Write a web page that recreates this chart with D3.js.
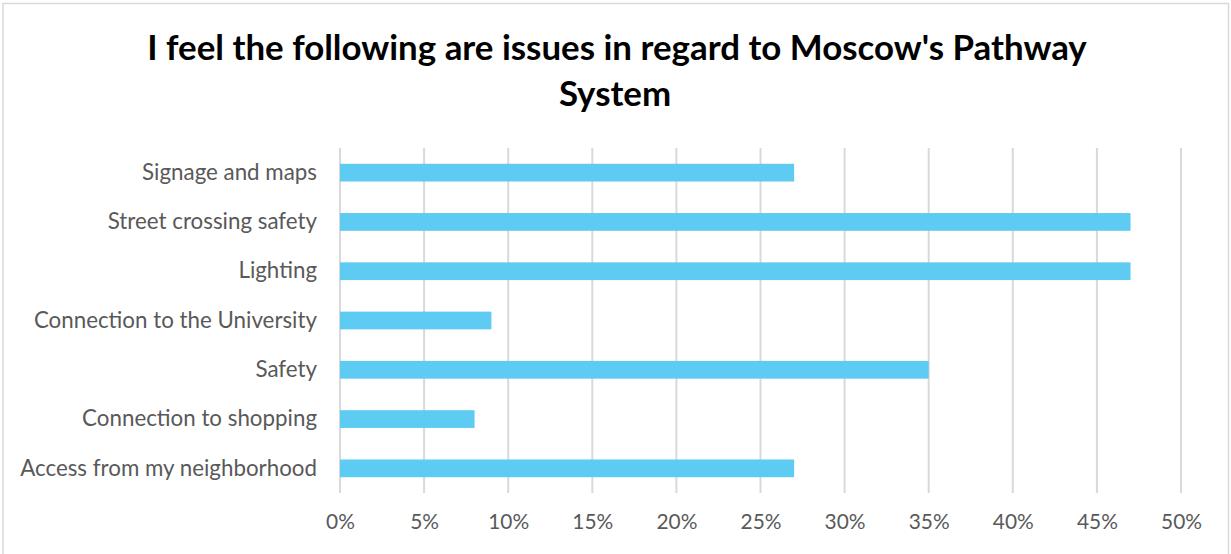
<!DOCTYPE html>
<html>
<head>
<meta charset="utf-8">
<script src="https://cdn.jsdelivr.net/npm/d3@7"></script>
<style>
  html, body { margin: 0; padding: 0; background: #fff; }
  svg { display: block; }
</style>
</head>
<body>
<svg id="chart" width="1231" height="554"></svg>
<script>
// Survey responses: share of respondents naming each issue
const categories = [
  "Signage and maps",
  "Street crossing safety",
  "Lighting",
  "Connection to the University",
  "Safety",
  "Connection to shopping",
  "Access from my neighborhood"
];
const values = [0.27, 0.47, 0.47, 0.09, 0.35, 0.08, 0.27];
const tickValues = [0, 0.05, 0.10, 0.15, 0.20, 0.25, 0.30, 0.35, 0.40, 0.45, 0.50];
const titleLines = ["I feel the following are issues in regard to Moscow's Pathway", "System"];

const W = 1231, H = 554;
const margin = { left: 340, right: 50, top: 148, bottom: 61 };
const font = "Lato, 'Open Sans', sans-serif";

const svg = d3.select("#chart");

// outer chart border (its bottom edge runs past the canvas)
svg.append("rect")
  .attr("x", 3).attr("y", 3.5)
  .attr("width", W - 5.5).attr("height", H + 10)
  .attr("fill", "#fff")
  .attr("stroke", "#d9d9d9")
  .attr("stroke-width", 1.5);

const x = d3.scaleLinear().domain([0, 0.5]).range([margin.left, W - margin.right]);
const y = d3.scaleBand().domain(categories)
  .range([margin.top, H - margin.bottom])
  .paddingInner(0.64).paddingOuter(0.32);

// shrink/grow a text node so it spans the wanted width
function fitWidth(sel, target, base) {
  sel.attr("font-size", base);
  const w = sel.node().getComputedTextLength();
  sel.attr("font-size", base * target / w);
}

// vertical gridlines
svg.append("g")
  .selectAll("line")
  .data(tickValues)
  .join("line")
  .attr("x1", d => x(d)).attr("x2", d => x(d))
  .attr("y1", margin.top).attr("y2", H - margin.bottom)
  .attr("stroke", "#d9d9d9")
  .attr("stroke-width", 2);

// bars
svg.append("g")
  .selectAll("rect")
  .data(categories)
  .join("rect")
  .attr("x", x(0))
  .attr("y", d => y(d))
  .attr("width", (d, i) => x(values[i]) - x(0))
  .attr("height", y.bandwidth())
  .attr("fill", "#5ecbf2");

// x axis labels
const xAxis = d3.axisBottom(x)
  .tickValues(tickValues)
  .tickFormat(d3.format(".0%"))
  .tickSize(0)
  .tickPadding(21);
const gx = svg.append("g")
  .attr("transform", `translate(0,${H - margin.bottom})`)
  .call(xAxis);
gx.select(".domain").remove();
gx.selectAll("text")
  .attr("fill", "#595959")
  .attr("font-family", font);
const widest = gx.selectAll("text").filter(d => d === 0.5);
fitWidth(widest, 41, 20);
gx.selectAll("text").attr("font-size", widest.attr("font-size"));

// y axis labels
const yAxis = d3.axisLeft(y).tickSize(0).tickPadding(23);
const gy = svg.append("g")
  .attr("transform", `translate(${margin.left},0)`)
  .call(yAxis);
gy.select(".domain").remove();
gy.selectAll("text")
  .attr("fill", "#595959")
  .attr("font-family", font);
const longest = gy.selectAll("text").filter(d => d === "Access from my neighborhood");
fitWidth(longest, 297, 19);
gy.selectAll("text").attr("font-size", longest.attr("font-size"));

// title
const title = svg.append("g").attr("font-family", font).attr("font-weight", "bold").attr("fill", "#000");
const t1 = title.append("text")
  .attr("x", 617).attr("y", 60)
  .attr("text-anchor", "middle")
  .text(titleLines[0]);
fitWidth(t1, 940, 30);
title.append("text")
  .attr("x", 615).attr("y", 106)
  .attr("text-anchor", "middle")
  .attr("font-size", t1.attr("font-size"))
  .text(titleLines[1]);
</script>
</body>
</html>
